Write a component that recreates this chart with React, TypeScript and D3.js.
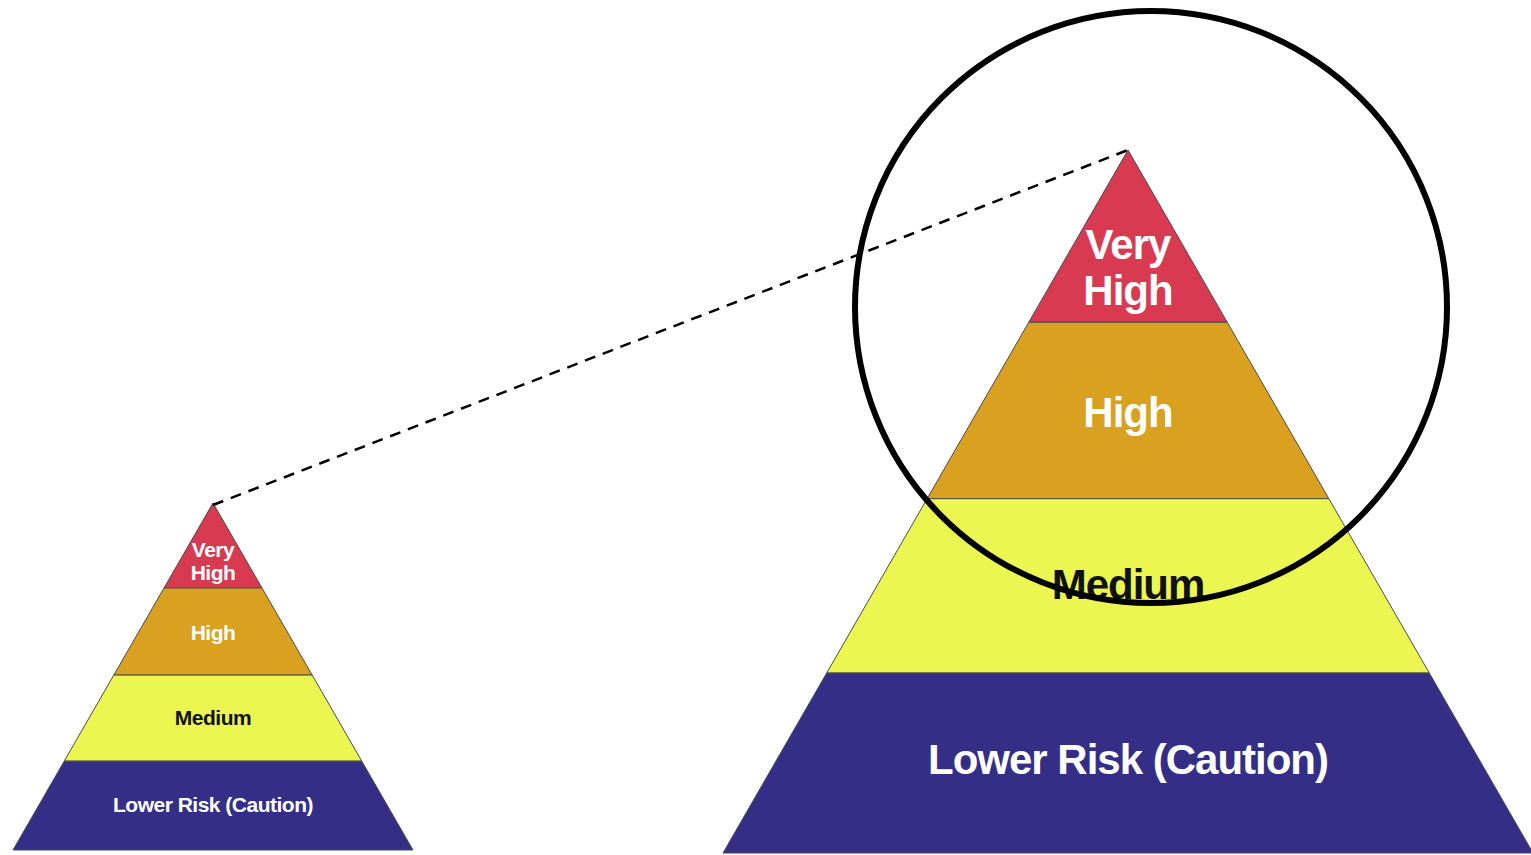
import React, { useEffect, useRef } from "react";
import * as d3 from "d3";

// risk levels from top of the pyramid to the base
const levels = ["Very High", "High", "Medium", "Lower Risk (Caution)"];
const levelShares = [0.245, 0.251, 0.248, 0.256];
const levelColors = ["#d83a52", "#d9a11f", "#ebf651", "#342e86"];
const labelColors = ["#ffffff", "#ffffff", "#111111", "#ffffff"];
const labelPos = [0.68, 0.51, 0.49, 0.48];

const W = 1531;
const H = 855;

const App = () => {
  const ref = useRef<SVGSVGElement | null>(null);

  useEffect(() => {
    const svg = d3.select(ref.current);
    svg.selectAll("*").remove();

    const bounds = [0, ...d3.cumsum(levelShares)];

    const drawPyramid = (apexX: number, apexY: number, height: number, halfBase: number, fontSize: number) => {
      const g = svg.append("g").attr("class", "pyramid");
      const y = d3.scaleLinear().domain([0, 1]).range([apexY, apexY + height]);
      const half = d3.scaleLinear().domain([0, 1]).range([0, halfBase]);
      const line = d3.line<[number, number]>();

      levels.forEach((lvl, i) => {
        const t0 = bounds[i];
        const t1 = bounds[i + 1];
        const pts: [number, number][] = [
          [apexX - half(t0), y(t0)],
          [apexX + half(t0), y(t0)],
          [apexX + half(t1), y(t1)],
          [apexX - half(t1), y(t1)],
        ];
        g.append("path")
          .attr("d", line(pts) + "Z")
          .attr("fill", levelColors[i])
          .attr("stroke", "#4a4a4a")
          .attr("stroke-width", 1)
          .attr("stroke-linejoin", "round");

        const ty = y(t0 + (t1 - t0) * labelPos[i]);
        const words = i === 0 ? lvl.split(" ") : [lvl];
        const lh = fontSize * 1.08;
        const text = g
          .append("text")
          .attr("x", apexX)
          .attr("y", ty - ((words.length - 1) * lh) / 2)
          .attr("text-anchor", "middle")
          .attr("dominant-baseline", "central")
          .style("font-family", "'Liberation Sans', Arial, sans-serif")
          .style("font-weight", "bold")
          .style("font-size", fontSize + "px")
          .style("letter-spacing", -fontSize / 42 + "px")
          .attr("fill", labelColors[i]);
        words.forEach((w, j) => {
          text
            .append("tspan")
            .attr("x", apexX)
            .attr("dy", j === 0 ? 0 : lh)
            .text(w);
        });
      });
    };

    const small = { x: 213, y: 503, h: 347, half: 200 };
    const big = { x: 1128, y: 150, h: 703, half: 405 };

    drawPyramid(small.x, small.y, small.h, small.half, 21);
    drawPyramid(big.x, big.y, big.h, big.half, 42);

    // dashed connector from small apex to big apex
    svg
      .append("line")
      .attr("x1", small.x)
      .attr("y1", small.y + 2)
      .attr("x2", big.x)
      .attr("y2", big.y)
      .attr("stroke", "#000")
      .attr("stroke-width", 2.5)
      .attr("stroke-dasharray", "11,8");

    // zoom circle around the top of the big pyramid
    svg
      .append("circle")
      .attr("cx", big.x + 23)
      .attr("cy", big.y + 157)
      .attr("r", 296)
      .attr("fill", "none")
      .attr("stroke", "#000")
      .attr("stroke-width", 6);
  }, []);

  return (
    <svg
      ref={ref}
      width={W}
      height={H}
      style={{ position: "absolute", left: 0, top: 0, background: "#fff" }}
    />
  );
};

export default App;
